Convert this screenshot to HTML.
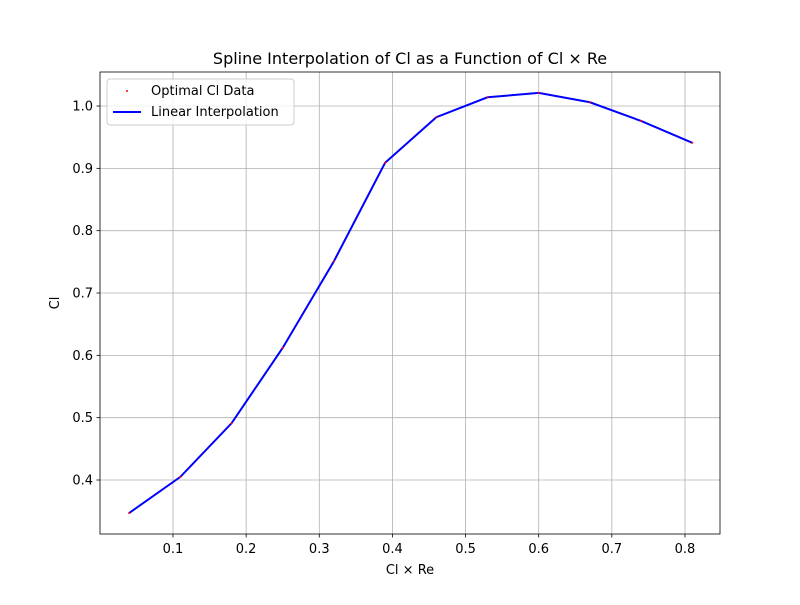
<!DOCTYPE html>
<html><head><meta charset="utf-8"><style>
body{margin:0;background:#fff}
svg{font-family:"DejaVu Sans","Liberation Sans",sans-serif}
</style></head><body>
<svg id="chart" width="800" height="600" xmlns="http://www.w3.org/2000/svg">
<rect width="800" height="600" fill="#fff"/>
<g id="grid"></g>
<g id="ticks"></g>
<g id="series"></g>
<rect x="100" y="72" width="620" height="462" fill="none" stroke="#000" stroke-width="0.8"/>
<text x="410" y="64" text-anchor="middle" font-size="16">Spline Interpolation of Cl as a Function of Cl × Re</text>
<text x="410" y="574" text-anchor="middle" font-size="13">Cl × Re</text>
<text x="59" y="303" text-anchor="middle" font-size="13" transform="rotate(-90 59 303)">Cl</text>
<g>
<rect x="107" y="79" width="187" height="46" rx="3" fill="#fff" fill-opacity="0.8" stroke="#ccc"/>
<circle cx="127" cy="91" r="1" fill="red"/>
<text x="151" y="95" font-size="13">Optimal Cl Data</text>
<line x1="113" y1="112" x2="141" y2="112" stroke="blue" stroke-width="2"/>
<text x="151" y="116" font-size="13">Linear Interpolation</text>
</g>
</svg>
<script>
const xValues=[0.04,0.11,0.18,0.25,0.32,0.39,0.46,0.53,0.60,0.67,0.74,0.81];
const yValues=[0.347,0.405,0.491,0.612,0.751,0.909,0.982,1.014,1.021,1.006,0.976,0.941];
const xTicks=[0.1,0.2,0.3,0.4,0.5,0.6,0.7,0.8];
const yTicks=[0.4,0.5,0.6,0.7,0.8,0.9,1.0];
const NS="http://www.w3.org/2000/svg";
function sx(v){return 173+(v-0.1)*731.4;}
function sy(v){return 480-(v-0.4)*623.3;}
function mk(t,a,p){const e=document.createElementNS(NS,t);for(const k in a)e.setAttribute(k,a[k]);p.appendChild(e);return e;}
const grid=document.getElementById('grid'),ticks=document.getElementById('ticks'),series=document.getElementById('series');
xTicks.forEach(v=>{const x=sx(v);
 let g=mk('line',{x1:x,x2:x,y1:72,y2:534,stroke:'#b0b0b0','stroke-width':0.8},grid);
 
 
 mk('line',{x1:x,x2:x,y1:534,y2:537.5,stroke:'#000','stroke-width':0.8},ticks);
 let t=mk('text',{x:x,y:553,'text-anchor':'middle','font-size':'13'},ticks);t.textContent=v.toFixed(1);
 
 
});
yTicks.forEach(v=>{const y=sy(v);
 let g=mk('line',{x1:100,x2:720,y1:y,y2:y,stroke:'#b0b0b0','stroke-width':0.8},grid);
 
 
 mk('line',{x1:96.5,x2:100,y1:y,y2:y,stroke:'#000','stroke-width':0.8},ticks);
 let t=mk('text',{x:93,y:y+4.5,'text-anchor':'end','font-size':'13'},ticks);t.textContent=v.toFixed(1);
 
 
});
const pl=mk('polyline',{points:xValues.map((x,i)=>sx(x)+','+sy(yValues[i])).join(' '),fill:'none',stroke:'blue','stroke-width':2},series);


xValues.forEach((x,i)=>{const c=mk('circle',{cx:sx(x),cy:sy(yValues[i]),r:1,fill:'red'},series);
 
 
});
</script>
</body></html>
